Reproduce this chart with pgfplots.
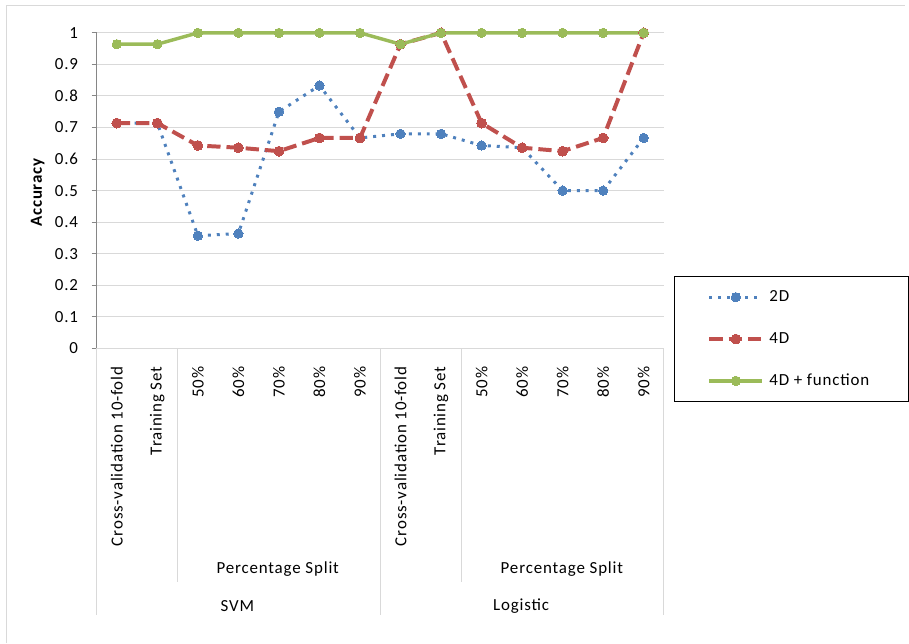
\documentclass[border=0pt]{standalone}
\usepackage{fontspec}
\setmainfont{Carlito}[LetterSpace=5]
\usepackage{pgfplots}
\pgfplotsset{compat=1.18}
\definecolor{c2d}{HTML}{4F81BD}
\definecolor{c4d}{HTML}{C0504D}
\definecolor{c4f}{HTML}{9BBB59}
\definecolor{gridc}{HTML}{D9D9D9}
\definecolor{axc}{HTML}{868686}
\newcommand\lbl{\fontsize{12.75pt}{15pt}\selectfont}
\begin{document}
\begin{tikzpicture}
\begin{scope}[x=0.75pt,y=0.75pt]
\path[use as bounding box] (-97,-296) rectangle (812,350);
\draw[gridc,line width=0.75pt] (-90,-296) -- (-90,344) -- (812,344);
\end{scope}
\begin{axis}[
  at={(0,0)}, anchor=south west,
  scale only axis, width=427.5pt, height=237.75pt,
  xmin=0, xmax=14, ymin=0, ymax=1,
  axis x line*=bottom, axis y line*=left,
  x axis line style={gridc, line width=0.75pt},
  y axis line style={axc, line width=0.75pt},
  ytick={0,0.1,...,1.01},
  yticklabels={0,0.1,0.2,0.3,0.4,0.5,0.6,0.7,0.8,0.9,1},
  ymajorgrids, grid style={gridc, line width=0.75pt},
  ytick style={axc, line width=0.75pt},
  tick align=outside, major tick length=3.75pt,
  yticklabel style={font=\lbl, inner sep=0pt, anchor=east},
  yticklabel shift=10pt,
  xtick={0.5,1.5,...,13.5},
  xtick style={draw=none},
  xticklabels={Cross-validation 10-fold,Training Set,50\%,60\%,70\%,80\%,90\%,Cross-validation 10-fold,Training Set,50\%,60\%,70\%,80\%,90\%},
  xticklabel style={font=\lbl, rotate=90, anchor=east, inner sep=0pt},
  xticklabel shift=9.75pt,
  ylabel={\textbf{Accuracy}},
  ylabel style={font=\lbl, at={(axis description cs:-0.1035,0.495)}, anchor=center},
  clip=false,
  legend style={at={(1.0175,0.2303)}, anchor=north west, draw=black, line width=0.9pt,
    inner xsep=24.75pt, inner ysep=0pt, font=\lbl,
    nodes={inner sep=0pt, minimum height=31.5pt},
    /tikz/every even column/.append style={column sep=0pt},
    /tikz/every odd column/.append style={column sep=3.75pt}},
  legend cell align=left,
  legend image code/.code={\draw[mark repeat=2,mark phase=2] plot coordinates {(0pt,0pt) (20pt,0pt) (40pt,0pt)};},
]
\addplot[c2d, line width=2.25pt, dash pattern=on 2.25pt off 4.5pt, mark=*, mark size=3.5pt, mark options={solid, draw=c2d, fill=c2d, line width=0pt}] coordinates {
 (0.5,0.714) (1.5,0.714) (2.5,0.357) (3.5,0.364) (4.5,0.75) (5.5,0.833) (6.5,0.667)
 (7.5,0.68) (8.5,0.68) (9.5,0.643) (10.5,0.636) (11.5,0.5) (12.5,0.5) (13.5,0.667)};
\addlegendentry{\makebox[80pt][l]{2D}}
\addplot[c4d, line width=3pt, dash pattern=on 10pt off 4.5pt, mark=*, mark size=3.7pt, mark options={solid, draw=c4d, fill=c4d, line width=0pt}] coordinates {
 (0.5,0.714) (1.5,0.714) (2.5,0.643) (3.5,0.636) (4.5,0.625) (5.5,0.667) (6.5,0.667)
 (7.5,0.964) (8.5,1.0) (9.5,0.714) (10.5,0.636) (11.5,0.625) (12.5,0.667) (13.5,1.0)};
\addlegendentry{\makebox[80pt][l]{4D}}
\addplot[c4f, line width=2.6pt, mark=*, mark size=3.5pt, mark options={solid, draw=c4f, fill=c4f, line width=0pt}] coordinates {
 (0.5,0.964) (1.5,0.964) (2.5,1) (3.5,1) (4.5,1) (5.5,1) (6.5,1)
 (7.5,0.964) (8.5,1) (9.5,1) (10.5,1) (11.5,1) (12.5,1) (13.5,1)};
\addlegendentry{\makebox[80pt][l]{4D + function}}
\end{axis}
\begin{scope}[x=0.75pt,y=0.75pt]
\draw[gridc,line width=0.75pt] (0,0) -- (0,-268);
\draw[gridc,line width=0.75pt] (285,0) -- (285,-268);
\draw[gridc,line width=0.75pt] (570,0) -- (570,-268);
\draw[gridc,line width=0.75pt] (81.43,0) -- (81.43,-235);
\draw[gridc,line width=0.75pt] (366.43,0) -- (366.43,-235);
\node[font=\lbl] at (182,-222) {Percentage Split};
\node[font=\lbl] at (467.5,-222) {Percentage Split};
\node[font=\lbl] at (141.5,-259) {SVM};
\node[font=\lbl] at (426.5,-259) {Logistic};
\end{scope}
\end{tikzpicture}
\end{document}
